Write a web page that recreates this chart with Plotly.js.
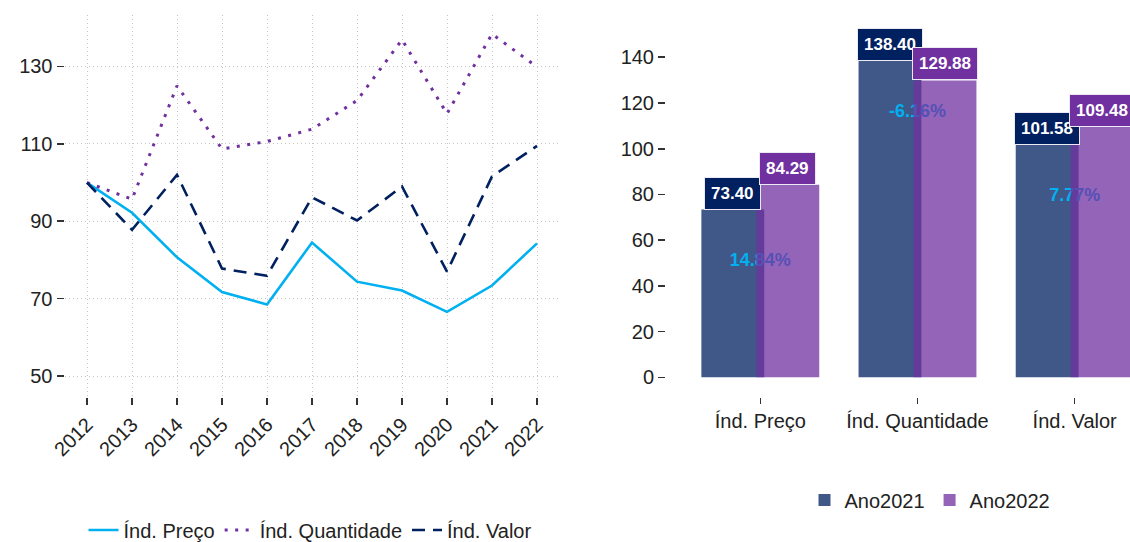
<!DOCTYPE html>
<html>
<head>
<meta charset="utf-8">
<script src="https://cdn.plot.ly/plotly-3.0.1.min.js"></script>
<style>
  html, body { margin: 0; padding: 0; background: #ffffff; }
  #chart { width: 1130px; height: 542px; }
</style>
</head>
<body>
<div id="chart"></div>
<script>
// ---- data: left panel (index series) ----
const years = [2012, 2013, 2014, 2015, 2016, 2017, 2018, 2019, 2020, 2021, 2022];
const precoIdx = [100, 92.2, 80.7, 71.7, 68.5, 84.5, 74.4, 72.1, 66.6, 73.40, 84.29];
const quantIdx = [100, 95.7, 125.0, 108.7, 110.6, 113.8, 121.2, 136.9, 117.8, 138.40, 129.88];
const valorIdx = [100, 87.8, 102.0, 77.8, 75.9, 96.2, 90.2, 99.0, 77.0, 101.58, 109.48];
const lineNames = ['Índ. Preço', 'Índ. Quantidade', 'Índ. Valor'];
const leftTicks = [50, 70, 90, 110, 130];

// ---- data: right panel (2021 vs 2022) ----
const barCats = ['Índ. Preço', 'Índ. Quantidade', 'Índ. Valor'];
const ano2021 = [73.40, 138.40, 101.58];
const ano2022 = [84.29, 129.88, 109.48];
const pctLabels = ['14.84%', '-6.16%', '7.77%'];
const rightTicks = [0, 20, 40, 60, 80, 100, 120, 140];

// ---- styles ----
const FONT = 'Liberation Sans, Arial, Helvetica, sans-serif';
const cCyan = '#00B0F0', cPurple = '#7030A0', cNavy = '#002060';
const tickFont = {family: FONT, size: 20, color: '#222222'};

const barW = 0.4, dodge = 0.175;

const traces = [
  {x: years, y: precoIdx, name: lineNames[0], type: 'scatter', mode: 'lines',
   line: {color: cCyan, width: 2.6}, xaxis: 'x', yaxis: 'y', legend: 'legend', hoverinfo: 'skip'},
  {x: years, y: quantIdx, name: lineNames[1], type: 'scatter', mode: 'lines',
   line: {color: cPurple, width: 3, dash: '3px,7.5px'}, xaxis: 'x', yaxis: 'y', legend: 'legend', hoverinfo: 'skip'},
  {x: years, y: valorIdx, name: lineNames[2], type: 'scatter', mode: 'lines',
   line: {color: cNavy, width: 2.6, dash: '13px,8px'}, xaxis: 'x', yaxis: 'y', legend: 'legend', hoverinfo: 'skip'},

  {x: barCats, y: ano2021, name: 'Ano2021', type: 'bar', width: barW, offset: -dodge - barW / 2,
   marker: {color: 'rgba(0,32,96,0.75)', line: {width: 0}}, xaxis: 'x2', yaxis: 'y2', legend: 'legend2', hoverinfo: 'skip'},
  // percent-change text, drawn between the two bar series so the 2022 bar covers it
  {x: barCats, y: ano2021.map(() => 20), base: ano2021.map(v => v - 22 - 10), type: 'bar',
   width: 0.7, offset: -0.35, text: pctLabels, textposition: 'inside', insidetextanchor: 'middle',
   textangle: 0, constraintext: 'none',
   insidetextfont: {family: FONT, size: 18, color: cCyan, weight: 'bold'},
   marker: {color: 'rgba(0,0,0,0)', line: {width: 0}}, showlegend: false,
   xaxis: 'x2', yaxis: 'y2', hoverinfo: 'skip'},
  {x: barCats, y: ano2022, name: 'Ano2022', type: 'bar', width: barW, offset: dodge - barW / 2,
   marker: {color: 'rgba(112,48,160,0.75)', line: {width: 0}}, xaxis: 'x2', yaxis: 'y2', legend: 'legend2', hoverinfo: 'skip'}
];

const labelFont = {family: FONT, size: 17, color: '#ffffff', weight: 'bold'};
const annotations = [];
ano2021.forEach((v, i) => annotations.push({
  xref: 'x2', yref: 'y2', x: i - dodge, y: v, xanchor: 'center', yanchor: 'bottom',
  text: v.toFixed(2), showarrow: false, bgcolor: cNavy, bordercolor: '#ece8f4', borderwidth: 1, borderpad: 6,
  font: labelFont
}));
ano2022.forEach((v, i) => annotations.push({
  xref: 'x2', yref: 'y2', x: i + dodge, y: v, xanchor: 'center', yanchor: 'bottom',
  text: v.toFixed(2), showarrow: false, bgcolor: cPurple, bordercolor: '#ece8f4', borderwidth: 1, borderpad: 6,
  font: labelFont
}));

const W = 1130, H = 542;
const yDom = [1 - 397 / H, 1 - 15 / H];
const gridStyle = {showgrid: true, gridcolor: '#c4c4c4', gridwidth: 1, griddash: '1px,3px'};
const tickStyle = {ticks: 'outside', ticklen: 7, tickwidth: 1.6, tickcolor: '#333333',
                   zeroline: false, showline: false, tickfont: tickFont, automargin: false, fixedrange: true};

const layout = {
  width: W, height: H,
  margin: {l: 0, r: 0, t: 0, b: 0, pad: 0, autoexpand: false},
  paper_bgcolor: '#ffffff', plot_bgcolor: '#ffffff',
  font: {family: FONT, size: 20, color: '#222222'},
  barmode: 'overlay',
  showlegend: true,
  xaxis: Object.assign({
    domain: [64.5 / W, 559.5 / W], range: [2011.5, 2022.5], anchor: 'y',
    tickvals: years, ticktext: years.map(String), tickangle: -45
  }, tickStyle, gridStyle),
  yaxis: Object.assign({
    domain: yDom, range: [44.6, 143.3], anchor: 'x',
    tickvals: leftTicks, ticktext: leftTicks.map(String)
  }, tickStyle, gridStyle),
  xaxis2: Object.assign({
    domain: [666 / W, 1], range: [-0.6, 2.352], anchor: 'y2', type: 'category', showgrid: false
  }, tickStyle, {ticklen: 6}),
  yaxis2: Object.assign({
    domain: yDom, range: [-8.6, 158.5], anchor: 'x2',
    tickvals: rightTicks, ticktext: rightTicks.map(String), showgrid: false
  }, tickStyle),
  legend: {
    orientation: 'h', x: 310 / W, xanchor: 'center', y: 1 - 530 / H, yanchor: 'middle',
    font: {family: FONT, size: 20, color: '#222222'}, itemwidth: 30, bgcolor: 'rgba(0,0,0,0)'
  },
  legend2: {
    orientation: 'h', x: 930 / W, xanchor: 'center', y: 1 - 500 / H, yanchor: 'middle',
    font: {family: FONT, size: 20, color: '#222222'}, itemwidth: 30, bgcolor: 'rgba(0,0,0,0)'
  },
  annotations: annotations
};

Plotly.newPlot('chart', traces, layout, {displayModeBar: false, staticPlot: true});
</script>
</body>
</html>
